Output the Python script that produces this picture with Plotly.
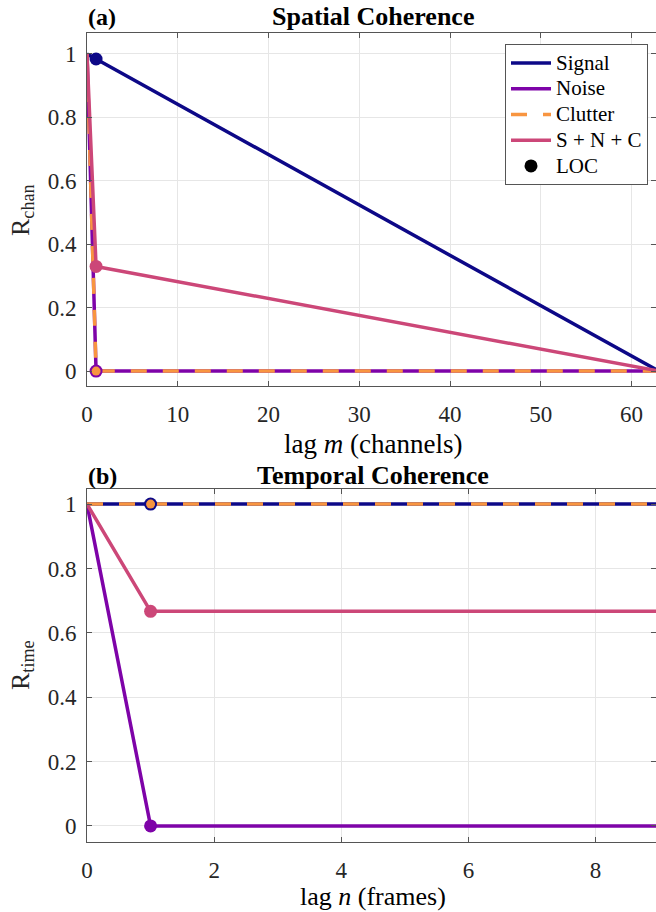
import plotly.graph_objects as go

# ---- data ----
# Spatial coherence (panel a)
lag_m = [0, 1, 63]
sig_m = [1.0, 0.984, 0.0]
noise_m = [1.0, 0.0, 0.0]
clut_m = [1.0, 0.0, 0.0]
snc_m = [1.0, 0.33, 0.0]
loc_m = 1
loc_sig_m, loc_noise_m, loc_clut_m, loc_snc_m = 0.984, 0.0, 0.0, 0.33

# Temporal coherence (panel b)
lag_n = [0, 1, 9]
sig_n = [1.0, 1.0, 1.0]
noise_n = [1.0, 0.0, 0.0]
clut_n = [1.0, 1.0, 1.0]
snc_n = [1.0, 0.667, 0.667]
loc_n = 1
loc_sig_n, loc_noise_n, loc_clut_n, loc_snc_n = 1.0, 0.0, 1.0, 0.667

names = ["Signal", "Noise", "Clutter", "S + N + C", "LOC"]
colors = {"Signal": "#0d0887", "Noise": "#7e03a8", "Clutter": "#f89540", "S + N + C": "#cc4778"}

W, H = 656, 912
L = 87
FONT = "Times New Roman, Liberation Serif, serif"

fig = go.Figure()
LW = 3.5

def lbl(nm):
    return "<span style='font-size:21px'>%s</span>" % nm

def add_panel(xs, series, xa, ya, showlegend):
    for nm, ys in series:
        dash = "16px,16px" if nm == "Clutter" else "solid"
        fig.add_trace(go.Scatter(x=xs, y=ys, mode="lines", name=lbl(nm),
                                 line=dict(color=colors[nm], width=LW, dash=dash),
                                 xaxis=xa, yaxis=ya, showlegend=showlegend,
                                 legendgroup=nm))

def add_locs(x, vals, xa, ya):
    for nm, v in vals:
        size = 9 if nm == "Clutter" else 13
        fig.add_trace(go.Scatter(x=[x], y=[v], mode="markers",
                                 marker=dict(color=colors[nm], size=size, line=dict(width=0)),
                                 xaxis=xa, yaxis=ya, showlegend=False))

add_panel(lag_m, [("Signal", sig_m), ("Noise", noise_m), ("Clutter", clut_m), ("S + N + C", snc_m)], "x", "y", True)
add_locs(loc_m, [("Signal", loc_sig_m), ("Noise", loc_noise_m), ("S + N + C", loc_snc_m), ("Clutter", loc_clut_m)], "x", "y")
fig.add_trace(go.Scatter(x=[None], y=[None], mode="markers", name=lbl(names[4]),
                         marker=dict(color="black", size=13), xaxis="x", yaxis="y"))

add_panel(lag_n, [("Signal", sig_n), ("Noise", noise_n), ("Clutter", clut_n), ("S + N + C", snc_n)], "x2", "y2", False)
add_locs(loc_n, [("Signal", loc_sig_n), ("Noise", loc_noise_n), ("S + N + C", loc_snc_n), ("Clutter", loc_clut_n)], "x2", "y2")

def py(p):
    return 1 - p / H

def px(p):
    return (p - L) / (W - L)

axis_common = dict(showline=True, linecolor="#555555", linewidth=1, mirror="ticks",
                   ticks="inside", ticklen=5, tickcolor="#555555",
                   showgrid=True, gridcolor="#e6e6e6", gridwidth=1, zeroline=False,
                   tickfont=dict(family=FONT, size=23, color="#262626"))
xstand = dict(ticklabelstandoff=7)
ystand = dict(ticklabelstandoff=5)

fig.update_layout(
    width=W, height=H, margin=dict(l=L, r=0, t=0, b=0),
    paper_bgcolor="white", plot_bgcolor="white",
    font=dict(family=FONT, color="#262626"),
    xaxis=dict(domain=[0, 1], anchor="y", range=[0, 62.7], tickvals=[0, 10, 20, 30, 40, 50, 60], **axis_common, **xstand),
    yaxis=dict(domain=[py(386), py(33)], anchor="x", range=[-0.047, 1.066],
               tickvals=[0, 0.2, 0.4, 0.6, 0.8, 1], ticktext=["0", "0.2", "0.4", "0.6", "0.8", "1"], **axis_common, **ystand),
    xaxis2=dict(domain=[0, 1], anchor="y2", range=[0, 8.95], tickvals=[0, 2, 4, 6, 8], **axis_common, **xstand),
    yaxis2=dict(domain=[py(842), py(489)], anchor="x2", range=[-0.05, 1.047],
                tickvals=[0, 0.2, 0.4, 0.6, 0.8, 1], ticktext=["0", "0.2", "0.4", "0.6", "0.8", "1"], **axis_common, **ystand),
    legend=dict(x=px(505), y=py(44), xanchor="left", yanchor="top",
                bgcolor="white", bordercolor="#555555", borderwidth=1,
                font=dict(family=FONT, size=17.5, color="black"),
                tracegroupgap=0, itemwidth=40),
)

anns = [
    dict(text="<b>(a)</b>", x=px(86), y=py(17), xanchor="left", size=24),
    dict(text="<b>Spatial Coherence</b>", x=px(373), y=py(17), xanchor="center", size=26),
    dict(text="lag <i>m</i> (channels)", x=px(373), y=py(444), xanchor="center", size=27),
    dict(text="<b>(b)</b>", x=px(86), y=py(476), xanchor="left", size=24),
    dict(text="<b>Temporal Coherence</b>", x=px(373), y=py(476), xanchor="center", size=26),
    dict(text="lag <i>n</i> (frames)", x=px(373), y=py(896), xanchor="center", size=26),
]
for a in anns:
    fig.add_annotation(text=a["text"], x=a["x"], y=a["y"], xref="paper", yref="paper",
                       xanchor=a["xanchor"], yanchor="middle", showarrow=False,
                       font=dict(family=FONT, size=a["size"], color="black"))

for txt, yc in [("R<sub>chan</sub>", 210), ("R<sub>time</sub>", 665)]:
    fig.add_annotation(text=txt, x=px(22), y=py(yc), xref="paper", yref="paper",
                       xanchor="center", yanchor="middle", textangle=-90, showarrow=False,
                       font=dict(family=FONT, size=26, color="#262626"))

fig.write_html("out.html")
